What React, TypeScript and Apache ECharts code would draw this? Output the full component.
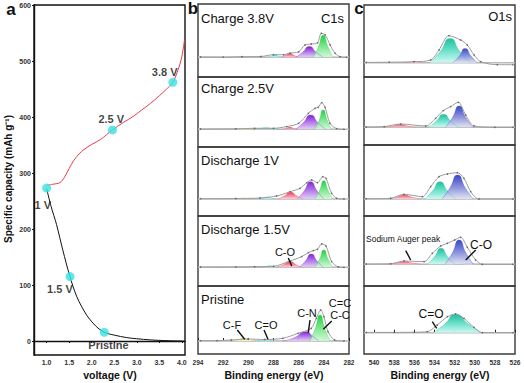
import React, { useEffect, useRef } from 'react';
import * as echarts from 'echarts';

const FONT = '"Liberation Sans", Arial, Helvetica, sans-serif';

// ---------- Panel a data ----------
const chargeVoltage = [1.0, 1.15, 1.3, 1.4, 1.5, 1.6, 1.72, 1.83, 2.0, 2.2, 2.46, 2.7, 2.92, 3.1, 3.3, 3.5, 3.65, 3.8, 3.92, 4.0, 4.06];
const chargeCapacity = [278, 280, 283, 293, 308, 322, 334, 342, 351, 360, 377, 390, 401, 412, 424, 438, 449, 462, 485, 508, 538];
const dischargeVoltage = [1.0, 1.1, 1.22, 1.36, 1.51, 1.67, 1.89, 2.1, 2.28, 2.5, 2.78, 3.0, 3.3, 3.6, 4.0, 4.06];
const dischargeCapacity = [272, 240, 208, 162, 117, 79, 46, 26, 15.5, 10.5, 6, 4, 2, 0.8, 0, 0];
const markerVoltage = [1.0, 1.52, 2.28, 2.46, 3.8];
const markerCapacity = [273, 115, 15.5, 377, 462];
const markerLabels = ['1 V', '1.5 V', 'Pristine', '2.5 V', '3.8 V'];
const voltageTicks = [1.0, 1.5, 2.0, 2.5, 3.0, 3.5, 4.0];
const capacityTicks = [0, 100, 200, 300, 400, 500, 600];

// ---------- Panel b (C1s) data: [binding energy, intensity] ----------
const c1sTicks = [294, 292, 290, 288, 286, 284, 282];
const c1sTitles = ['Charge 3.8V', 'Charge 2.5V', 'Discharge 1V', 'Discharge 1.5V', 'Pristine'];

const b1Cyan = [[288.5, 0], [288.2, 1.1], [287.9, 2.5], [287.6, 1.1], [287.3, 0]];
const b1Red = [[287.4, 0], [287.05, 1.8], [286.7, 4], [286.35, 1.8], [286.0, 0]];
const b1Purple = [[286.25, 0], [285.7, 4.8], [285.15, 10.7], [284.6, 4.8], [284.05, 0]];
const b1Green = [[284.85, 0], [284.45, 9.9], [284.05, 22], [283.65, 9.9], [283.25, 0]];
const b1Env = [[293.8, 0.3], [292, 0.2], [290.5, 0.6], [289, 0.8], [288, 2.6], [287.2, 2.5], [286.7, 4.2], [286, 5.5], [285.5, 12.3], [285, 13.3], [284.5, 14.5], [284.2, 24], [283.9, 22.5], [283.5, 12.3], [283.1, 4], [282.7, 0.5], [282.2, 0]];

const b2Yellow = [[290.9, 0], [290.6, 0.5], [290.3, 1], [290.0, 0.5], [289.7, 0]];
const b2Cyan = [[289.6, 0], [289.1, 0.7], [288.6, 1.5], [288.1, 0.7], [287.6, 0]];
const b2Red = [[287.3, 0], [287.0, 0.9], [286.7, 2], [286.4, 0.9], [286.1, 0]];
const b2Purple = [[286.25, 0], [285.65, 6.4], [285.05, 14.3], [284.45, 6.4], [283.85, 0]];
const b2Green = [[284.7, 0], [284.38, 8.7], [284.05, 19.3], [283.72, 8.7], [283.4, 0]];
const b2Env = [[293.8, 0.3], [291, 0.5], [289.5, 1], [288, 1], [286.95, 2.7], [286.0, 6], [285.23, 16], [284.7, 21], [284.44, 22], [284.17, 26.7], [283.9, 22], [283.51, 6], [282.98, 0.7], [282.4, 0]];

const b3Yellow = [[291.0, 0], [290.7, 0.5], [290.4, 1], [290.1, 0.5], [289.8, 0]];
const b3Cyan = [[289.1, 0], [288.8, 0.9], [288.5, 2], [288.2, 0.9], [287.9, 0]];
const b3Red = [[287.65, 0], [287.15, 3], [286.65, 6.7], [286.15, 3], [285.65, 0]];
const b3Purple = [[286.1, 0], [285.58, 7.8], [285.05, 17.3], [284.52, 7.8], [284.0, 0]];
const b3Green = [[284.7, 0], [284.35, 8.2], [284.0, 18.3], [283.65, 8.2], [283.3, 0]];
const b3Env = [[293.8, 0.3], [291, 0.5], [289.07, 1], [287.75, 3], [286.69, 7.3], [285.89, 10.7], [285.36, 16.3], [284.97, 19], [284.51, 16.3], [284.09, 22.3], [283.83, 20.7], [283.38, 5.7], [282.98, 0.7], [282.4, 0]];

const b4Cyan = [[288.8, 0], [288.55, 0.7], [288.3, 1.5], [288.05, 0.7], [287.8, 0]];
const b4Red = [[287.7, 0], [287.2, 2.6], [286.7, 5.7], [286.2, 2.6], [285.7, 0]];
const b4Purple = [[285.95, 0], [285.48, 6], [285.0, 13.3], [284.52, 6], [284.05, 0]];
const b4Green = [[284.7, 0], [284.35, 7.8], [284.0, 17.3], [283.65, 7.8], [283.3, 0]];
const b4Env = [[293.8, 0.3], [291, 0.4], [289.5, 0.6], [288.0, 1], [286.69, 6.3], [285.76, 10.7], [285.23, 14.7], [284.83, 16.7], [284.51, 18], [284.17, 23.3], [283.83, 21.3], [283.38, 5.7], [282.85, 0.5], [282.4, 0]];

const b5Yellow = [[291.3, 0], [290.85, 1.2], [290.4, 2.7], [289.95, 1.2], [289.5, 0]];
const b5Cyan = [[289.3, 0], [288.95, 0.7], [288.6, 1.5], [288.25, 0.7], [287.9, 0]];
const b5Purple = [[287.3, 0], [286.4, 3], [285.4, 9.3], [284.9, 5], [284.4, 0]];
const b5Green = [[285.1, 0], [284.7, 11.7], [284.3, 26], [283.9, 11.7], [283.5, 0]];
const b5Env = [[293.8, 0.3], [292.5, 0.4], [291.35, 1], [290.03, 2], [288.7, 1.5], [287.25, 2.7], [286.05, 7.7], [285.0, 12.7], [284.6, 22.7], [284.25, 31], [283.99, 24.3], [283.67, 9.3], [283.14, 1], [282.4, 0]];

// ---------- Panel c (O1s) data ----------
const o1sTicks = [540, 538, 536, 534, 532, 530, 528, 526];

const c1Red = [[536.8, 0], [536.4, 0.6], [536.0, 1.3], [535.6, 0.6], [535.2, 0]];
const c1Teal = [[534.45, 0], [533.45, 10.9], [532.45, 24.3], [531.45, 10.9], [530.45, 0]];
const c1Blue = [[532.15, 0], [531.55, 6.4], [530.95, 14.3], [530.35, 6.4], [529.75, 0]];
const c1Env = [[540.8, 0.3], [538.5, 0.5], [536.03, 1], [534.38, 2.7], [533.55, 12.7], [532.56, 27], [531.4, 22.7], [530.74, 17.7], [530.07, 7.7], [529.41, 1], [527.76, -2], [526.2, -2]];

const c2Red = [[539.0, 0], [538.2, 1.2], [537.4, 2.7], [536.6, 1.2], [535.8, 0]];
const c2Teal = [[534.6, 0], [533.85, 5.9], [533.1, 13], [532.35, 5.9], [531.6, 0]];
const c2Blue = [[532.9, 0], [532.22, 9.6], [531.55, 21.3], [530.88, 9.6], [530.2, 0]];
const c2Env = [[540.8, 0.3], [539.0, 0.7], [537.36, 3.3], [534.87, 1.3], [533.88, 9], [533.12, 16.7], [532.39, 20.7], [531.63, 25], [530.9, 12.3], [530.07, 1.3], [528, 0], [526.2, 0]];

const c3Red = [[538.6, 0], [537.8, 1.8], [537.0, 4], [536.2, 1.8], [535.4, 0]];
const c3Teal = [[535.0, 0], [534.22, 7.8], [533.45, 17.3], [532.68, 7.8], [531.9, 0]];
const c3Blue = [[533.25, 0], [532.48, 10.8], [531.7, 24], [530.92, 10.8], [530.15, 0]];
const c3Env = [[540.8, 0.3], [538.35, 0.7], [537.03, 4.7], [535.2, 2.3], [534.38, 12.3], [533.55, 22.3], [532.72, 25], [531.73, 26.3], [531.07, 20.7], [530.4, 7.3], [529.58, 0], [526.2, 0]];

const c4Red = [[538.7, 0], [537.85, 1.2], [537.0, 2.7], [536.15, 1.2], [535.3, 0]];
const c4Teal = [[534.7, 0], [534.02, 7.2], [533.35, 16], [532.68, 7.2], [532.0, 0]];
const c4Blue = [[532.95, 0], [532.25, 10.9], [531.55, 24.3], [530.85, 10.9], [530.15, 0]];
const c4Lavender = [[531.3, 0], [530.9, 0.5], [530.5, 1], [530.1, 0.5], [529.7, 0]];
const c4Env = [[540.8, 0.3], [538.35, 0.5], [537.03, 3.3], [535.04, 2.7], [534.21, 11], [533.38, 18.3], [532.72, 21], [531.99, 24.3], [531.4, 27], [530.74, 17], [529.91, 4.3], [529.25, 0], [526.2, 0]];

const c5Teal = [[534.1, 0], [533.0, 8.5], [531.9, 18.3], [530.6, 8.5], [529.3, 0]];
const c5Env = [[540.8, 0.3], [538, 0.3], [536, 0.5], [534.71, 1], [533.72, 7.7], [532.72, 16], [531.9, 18.7], [531.07, 14.3], [530.07, 5.3], [529.25, 0], [526.2, 0]];

// ---------- colours (top, middle, bottom of each peak's gradient) ----------
const COL = {
  yellow: ['#e2d84a', '#f0ec98', '#fbf9d8'],
  cyan: ['#22d2dc', '#86eef0', '#d4fbfb'],
  red: ['#ee3352', '#f7869a', '#ffd3dc'],
  purple: ['#7a18d2', '#b57ce8', '#e2cff7'],
  green: ['#18cc3a', '#7ee890', '#d2f8d8'],
  redO: ['#ef5068', '#f7909e', '#ffd8e0'],
  teal: ['#12bb98', '#6fe2cc', '#cdf8f2'],
  blue: ['#2f3cc4', '#8c94dc', '#e2e3f2'],
  lavender: ['#a98ef0', '#cdbff6', '#eee8fc'],
};

function grad(c: string[]) {
  return new echarts.graphic.LinearGradient(0, 0, 0, 1, [
    { offset: 0, color: c[0] },
    { offset: 0.55, color: c[1] },
    { offset: 1, color: c[2] },
  ]);
}

const bLayout = [
  { top: 4, h: 73, base: 19.7 },
  { top: 77, h: 70, base: 17.7 },
  { top: 147, h: 69, base: 17 },
  { top: 216, h: 70, base: 18.7 },
  { top: 286, h: 68, base: 13 },
];
const cLayout = [
  { top: 5, h: 72, base: 14.3 },
  { top: 77, h: 68, base: 17.7 },
  { top: 145, h: 71, base: 17 },
  { top: 216, h: 70, base: 21.7 },
  { top: 286, h: 68, base: 21.3 },
];

const bPanels = [
  { peaks: [[b1Cyan, COL.cyan], [b1Red, COL.red], [b1Purple, COL.purple], [b1Green, COL.green]], env: b1Env },
  { peaks: [[b2Yellow, COL.yellow], [b2Cyan, COL.cyan], [b2Red, COL.red], [b2Purple, COL.purple], [b2Green, COL.green]], env: b2Env },
  { peaks: [[b3Yellow, COL.yellow], [b3Cyan, COL.cyan], [b3Red, COL.red], [b3Purple, COL.purple], [b3Green, COL.green]], env: b3Env },
  { peaks: [[b4Cyan, COL.cyan], [b4Red, COL.red], [b4Purple, COL.purple], [b4Green, COL.green]], env: b4Env },
  { peaks: [[b5Yellow, COL.yellow], [b5Cyan, COL.cyan], [b5Purple, COL.purple], [b5Green, COL.green]], env: b5Env },
];
const cPanels = [
  { peaks: [[c1Red, COL.redO], [c1Teal, COL.teal], [c1Blue, COL.blue]], env: c1Env },
  { peaks: [[c2Red, COL.redO], [c2Teal, COL.teal], [c2Blue, COL.blue]], env: c2Env },
  { peaks: [[c3Red, COL.redO], [c3Teal, COL.teal], [c3Blue, COL.blue]], env: c3Env },
  { peaks: [[c4Red, COL.redO], [c4Lavender, COL.lavender], [c4Teal, COL.teal], [c4Blue, COL.blue]], env: c4Env },
  { peaks: [[c5Teal, COL.teal]], env: c5Env },
];

function buildOption() {
  const grids: any[] = [];
  const xAxes: any[] = [];
  const yAxes: any[] = [];
  const series: any[] = [];

  // Panel a
  grids.push({ left: 34, top: 5, width: 151, height: 350, show: true, borderColor: '#111', borderWidth: 1.4, backgroundColor: 'transparent' });
  xAxes.push({
    gridIndex: 0, type: 'value', min: 0.72, max: 4.07,
    axisLine: { show: true, lineStyle: { color: '#111', width: 1.4 } },
    axisTick: { show: true, customValues: voltageTicks, length: 2, lineStyle: { color: '#111' } },
    axisLabel: { customValues: voltageTicks, formatter: (v: number) => v.toFixed(1), fontSize: 7, fontWeight: 'bold', color: '#333', fontFamily: FONT, margin: 4 },
    splitLine: { show: false },
  });
  yAxes.push({
    gridIndex: 0, type: 'value', min: -25, max: 600,
    axisLine: { show: true, lineStyle: { color: '#111', width: 1.4 } },
    axisTick: { show: true, customValues: capacityTicks, length: 2, lineStyle: { color: '#111' } },
    axisLabel: { customValues: capacityTicks, fontSize: 7, fontWeight: 'bold', color: '#333', fontFamily: FONT, margin: 3 },
    splitLine: { show: false },
  });
  series.push({
    type: 'line', xAxisIndex: 0, yAxisIndex: 0, symbol: 'none', smooth: 0.3,
    data: chargeVoltage.map((v, i) => [v, chargeCapacity[i]]),
    lineStyle: { color: '#ee3a4a', width: 1 }, z: 2,
  });
  series.push({
    type: 'line', xAxisIndex: 0, yAxisIndex: 0, symbol: 'none', smooth: 0.3,
    data: dischargeVoltage.map((v, i) => [v, dischargeCapacity[i]]),
    lineStyle: { color: '#111', width: 1 }, z: 2,
  });
  // label start offsets (left edge of text relative to marker centre)
  const labelOffsets = [[-12, 17], [-23, 12], [-16, 13], [-14, -11], [-21, -10]];
  series.push({
    type: 'scatter', xAxisIndex: 0, yAxisIndex: 0, symbolSize: 9, z: 5,
    itemStyle: { color: '#38e2e2' },
    label: { show: true, position: 'inside', align: 'left', verticalAlign: 'middle', fontSize: 11, fontWeight: 'bold', color: '#111', fontFamily: FONT },
    data: markerVoltage.map((v, i) => ({
      value: [v, markerCapacity[i]],
      label: { show: true, formatter: markerLabels[i], offset: labelOffsets[i], align: 'left' },
    })),
  });

  const addPanels = (layout: any[], panels: any[], left: number, width: number, xmin: number, xmax: number, ticks: number[]) => {
    layout.forEach((L, i) => {
      const k = grids.length;
      const isBottom = i === layout.length - 1;
      grids.push({ left, top: L.top, width, height: L.h, show: true, borderColor: '#3a3a3a', borderWidth: 1.4, backgroundColor: 'transparent' });
      xAxes.push({
        gridIndex: k, type: 'value', min: xmin, max: xmax, inverse: true, interval: 2,
        axisLine: { show: false },
        axisTick: { show: isBottom, customValues: ticks, inside: true, length: 3, lineStyle: { color: '#222' } },
        axisLabel: { show: isBottom, customValues: ticks, fontSize: 6.5, fontWeight: 'bold', color: '#333', fontFamily: FONT, margin: 5 },
        splitLine: { show: false },
      });
      yAxes.push({ gridIndex: k, type: 'value', min: -L.base, max: L.h - L.base, show: false, splitLine: { show: false } });
      const P = panels[i];
      series.push({
        type: 'line', xAxisIndex: k, yAxisIndex: k, symbol: 'none', silent: true,
        data: [[xmax, 0], [xmin, 0]], lineStyle: { color: '#b9b9b9', width: 1.5 }, z: 1,
      });
      P.peaks.forEach((pk: any) => {
        series.push({
          type: 'line', xAxisIndex: k, yAxisIndex: k, symbol: 'none', smooth: 0.65, silent: true,
          data: pk[0], lineStyle: { color: pk[1][0], width: 0.6, opacity: 0.5 },
          areaStyle: { color: grad(pk[1]), opacity: 0.95 }, z: 2,
        });
      });
      series.push({
        type: 'line', xAxisIndex: k, yAxisIndex: k, symbol: 'none', smooth: 0.3, silent: true,
        data: P.env, lineStyle: { color: '#9c9c9c', width: 1 }, z: 4,
      });
      series.push({
        type: 'scatter', xAxisIndex: k, yAxisIndex: k, symbolSize: 1.6, silent: true,
        data: P.env, itemStyle: { color: '#555' }, z: 5,
      });
    });
  };
  addPanels(bLayout, bPanels, 198, 151, 282, 294, c1sTicks);
  addPanels(cLayout, cPanels, 364, 151, 526, 541, o1sTicks);

  const txt = (text: string, x: number, y: number, size: number, opts: any = {}) => ({
    type: 'text', x, y, silent: true, z: 100,
    style: { text, fontSize: size, fontFamily: FONT, fontWeight: opts.bold ? 'bold' : 'normal', fill: opts.fill || '#111', align: opts.align || 'center', verticalAlign: 'middle' },
    rotation: opts.rotation || 0,
  });
  const ln = (x1: number, y1: number, x2: number, y2: number) => ({
    type: 'line', silent: true, z: 100,
    shape: { x1, y1, x2, y2 }, style: { stroke: '#111', lineWidth: 1.4 },
  });

  const graphic: any[] = [
    txt('a', 11, 9, 17, { bold: true }),
    txt('b', 193, 8, 17, { bold: true }),
    txt('c', 359, 8, 17, { bold: true }),
    txt('Specific capacity (mAh g⁻¹)', 8.5, 179, 10, { bold: true, rotation: Math.PI / 2 }),
    txt('voltage (V)', 110, 375, 10.5, { bold: true }),
    txt('Binding energy (eV)', 274, 375, 10.5, { bold: true }),
    txt('Binding energy (eV)', 440, 375, 10.5, { bold: true }),
    txt('C1s', 344, 18, 13, { align: 'right' }),
    txt('O1s', 512, 16, 13, { align: 'right' }),
    txt('C-O', 285, 252, 11),
    ln(288.3, 258, 291.7, 266),
    txt('C-F', 232, 325, 11),
    ln(237.3, 330, 244.7, 339.3),
    txt('C=O', 266, 325, 11),
    ln(264, 330, 268, 339.3),
    txt('C-N', 307, 313, 11),
    ln(310, 320, 308.3, 332.7),
    txt('C=C', 340, 303, 11),
    txt('C-C', 340, 315, 11),
    ln(331.7, 321, 323.3, 329.3),
    txt('Sodium Auger peak', 366, 239, 8.5, { align: 'left' }),
    ln(405.7, 250.7, 410.7, 260),
    txt('C-O', 481, 245, 12),
    ln(475.7, 250, 465.7, 260),
    txt('C=O', 431, 314, 12),
    ln(432.3, 321.7, 436.7, 328.3),
  ];
  const titleY = [18, 88, 160, 229, 299];
  c1sTitles.forEach((t, i) => graphic.push(txt(t, 201, titleY[i], 13, { align: 'left' })));

  return {
    animation: false,
    backgroundColor: '#ffffff',
    grid: grids,
    xAxis: xAxes,
    yAxis: yAxes,
    series,
    graphic,
  };
}

export default function App() {
  const ref = useRef<HTMLDivElement>(null);
  useEffect(() => {
    document.body.style.margin = '0';
    if (!ref.current) return;
    const chart = echarts.init(ref.current, undefined, { renderer: 'svg' });
    chart.setOption(buildOption() as any);
    return () => chart.dispose();
  }, []);
  return <div ref={ref} style={{ position: 'fixed', left: 0, top: 0, width: 524, height: 383 }} />;
}
